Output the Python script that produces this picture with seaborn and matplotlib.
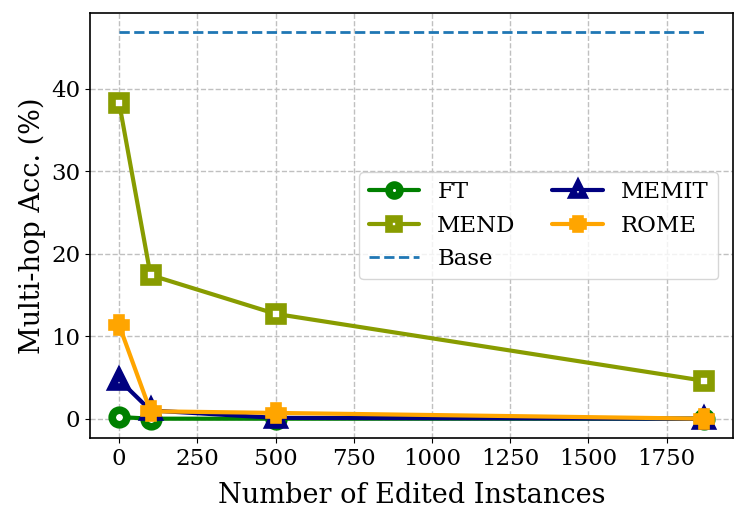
import matplotlib
matplotlib.use("Agg")
import matplotlib.pyplot as plt
import seaborn as sns
import pandas as pd

x_vals = [0, 100, 500, 1868]
ft = [0.2, 0.0, 0.0, 0.0]
mend = [38.2, 17.4, 12.7, 4.6]
memit = [4.7, 1.0, 0.1, 0.0]
rome = [11.3, 0.9, 0.7, 0.0]
base = [46.8, 46.8, 46.8, 46.8]

sns.set_style("ticks")
plt.rcParams["font.family"] = ["DejaVu Serif"]
plt.rcParams["text.color"] = "black"
plt.rcParams["axes.labelcolor"] = "black"
plt.rcParams["xtick.color"] = "black"
plt.rcParams["ytick.color"] = "black"

fig = plt.figure(figsize=(7.47, 5.23), dpi=100)
ax = fig.add_axes([0.1205, 0.1625, 0.8605, 0.8125])

series = [
    ("FT", ft, "#008000", "o"),
    ("MEND", mend, "#889c00", "s"),
    ("Base", base, "#1f77b4", None),
    ("MEMIT", memit, "#000080", "^"),
    ("ROME", rome, "#ffa500", "P"),
]
for name, vals, color, marker in series:
    df = pd.DataFrame({"x": x_vals, "y": vals})
    if marker is None:
        sns.lineplot(data=df, x="x", y="y", ax=ax, color=color, linestyle="--",
                     linewidth=2, label=name)
    else:
        sns.lineplot(data=df, x="x", y="y", ax=ax, color=color, marker=marker,
                     markersize=10.5, markeredgewidth=5.5, markerfacecolor="white",
                     markeredgecolor=color, linewidth=3, label=name)

ax.set_xlabel("Number of Edited Instances", fontsize=19.5, labelpad=9)
ax.set_ylabel("Multi-hop Acc. (%)", fontsize=19.5)
ax.tick_params(labelsize=16.5, colors="black")
ax.set_xticks([0, 250, 500, 750, 1000, 1250, 1500, 1750])
ax.set_yticks([0, 10, 20, 30, 40])
ax.grid(True, linestyle="--", color="#c0c0c0", linewidth=1)
for s in ax.spines.values():
    s.set_linewidth(1.2)
    s.set_color("black")

handles, labels = ax.get_legend_handles_labels()
ax.legend(handles, labels, ncol=2, fontsize=16.5, loc="center right",
          bbox_to_anchor=(0.995, 0.5), handlelength=2.2, markerscale=0.75,
          columnspacing=1.6)

fig.savefig("out.png", dpi=100)
